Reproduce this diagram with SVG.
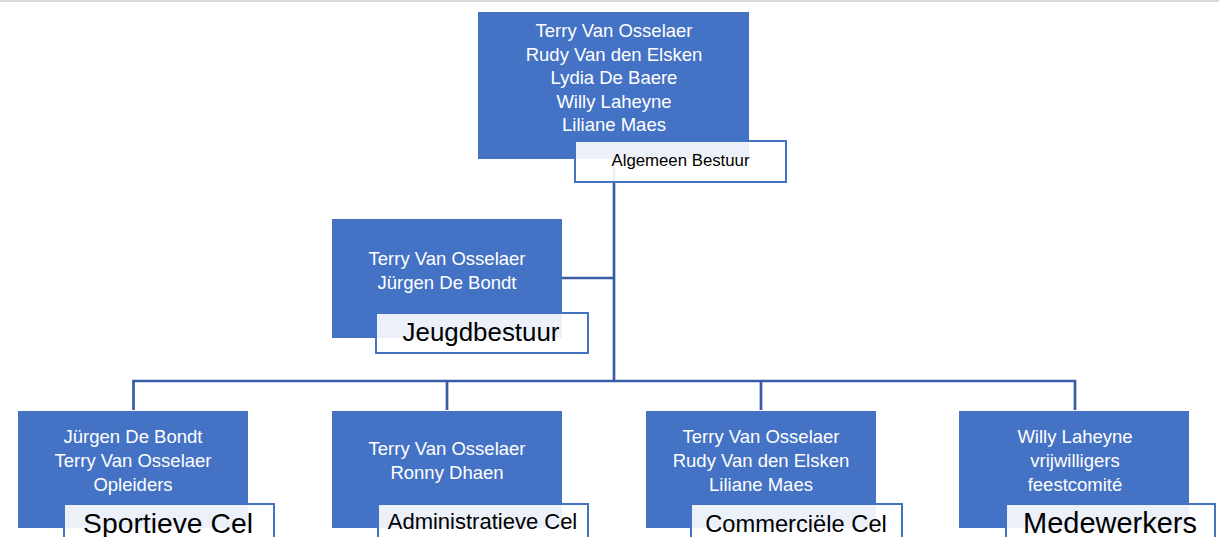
<svg xmlns="http://www.w3.org/2000/svg" width="1219" height="537" viewBox="0 0 1219 537">
<style>
.box{fill:#4472C4;}
.lbl{fill:#ffffff;fill-opacity:0.9;stroke:#4472C4;stroke-width:2;}
.t{font-family:"Liberation Sans",Arial,sans-serif;fill:#ffffff;font-size:18.5px;text-anchor:middle;}
.l{font-family:"Liberation Sans",Arial,sans-serif;fill:#000000;text-anchor:middle;}
.c{fill:none;stroke:#3A5CA5;stroke-width:2.7;}
</style>
<rect x="0" y="0" width="1219" height="2" fill="#d9d9d9"/>
<g id="connectors">
<path class="c" d="M614,159 V381"/>
<path class="c" d="M562,278 H614"/>
<path class="c" d="M133.5,410 V381 H1075 V410"/>
<path class="c" d="M447,381 V410"/>
<path class="c" d="M761,381 V410"/>
</g>
<g id="algemeen-bestuur">
<rect class="box" x="478" y="12" width="271" height="147"/>
<text class="t" x="614" y="37">Terry Van Osselaer</text>
<text class="t" x="614" y="60.5">Rudy Van den Elsken</text>
<text class="t" x="614" y="84">Lydia De Baere</text>
<text class="t" x="614" y="107.5">Willy Laheyne</text>
<text class="t" x="614" y="131">Liliane Maes</text>
<rect class="lbl" x="575" y="141" width="211" height="41"/>
<text class="l" x="680.5" y="166" font-size="16.8">Algemeen Bestuur</text>
</g>
<g id="jeugdbestuur">
<rect class="box" x="332" y="219" width="230" height="119"/>
<text class="t" x="447" y="265">Terry Van Osselaer</text>
<text class="t" x="447" y="288.5">Jürgen De Bondt</text>
<rect class="lbl" x="376" y="313" width="212" height="40"/>
<text class="l" x="481" y="341" font-size="25.9">Jeugdbestuur</text>
</g>
<g id="sportieve-cel">
<rect class="box" x="18" y="411" width="230" height="117"/>
<text class="t" x="133" y="443">Jürgen De Bondt</text>
<text class="t" x="133" y="467">Terry Van Osselaer</text>
<text class="t" x="133" y="490.5">Opleiders</text>
<rect class="lbl" x="64" y="504" width="210" height="40"/>
<text class="l" x="168" y="533" font-size="28.3">Sportieve Cel</text>
</g>
<g id="administratieve-cel">
<rect class="box" x="332" y="411" width="230" height="117"/>
<text class="t" x="447" y="455">Terry Van Osselaer</text>
<text class="t" x="447" y="479">Ronny Dhaen</text>
<rect class="lbl" x="378" y="504" width="210" height="40"/>
<text class="l" x="482.5" y="529" font-size="22">Administratieve Cel</text>
</g>
<g id="commerciele-cel">
<rect class="box" x="646" y="411" width="230" height="117"/>
<text class="t" x="761" y="443">Terry Van Osselaer</text>
<text class="t" x="761" y="467">Rudy Van den Elsken</text>
<text class="t" x="761" y="490.5">Liliane Maes</text>
<rect class="lbl" x="691" y="504" width="211" height="40"/>
<text class="l" x="796" y="532" font-size="23.7">Commerciële Cel</text>
</g>
<g id="medewerkers">
<rect class="box" x="959" y="411" width="230" height="117"/>
<text class="t" x="1075" y="443">Willy Laheyne</text>
<text class="t" x="1075" y="467">vrijwilligers</text>
<text class="t" x="1075" y="490.5">feestcomité</text>
<rect class="lbl" x="1006" y="504" width="209" height="40"/>
<text class="l" x="1110" y="533" font-size="29">Medewerkers</text>
</g>
</svg>
